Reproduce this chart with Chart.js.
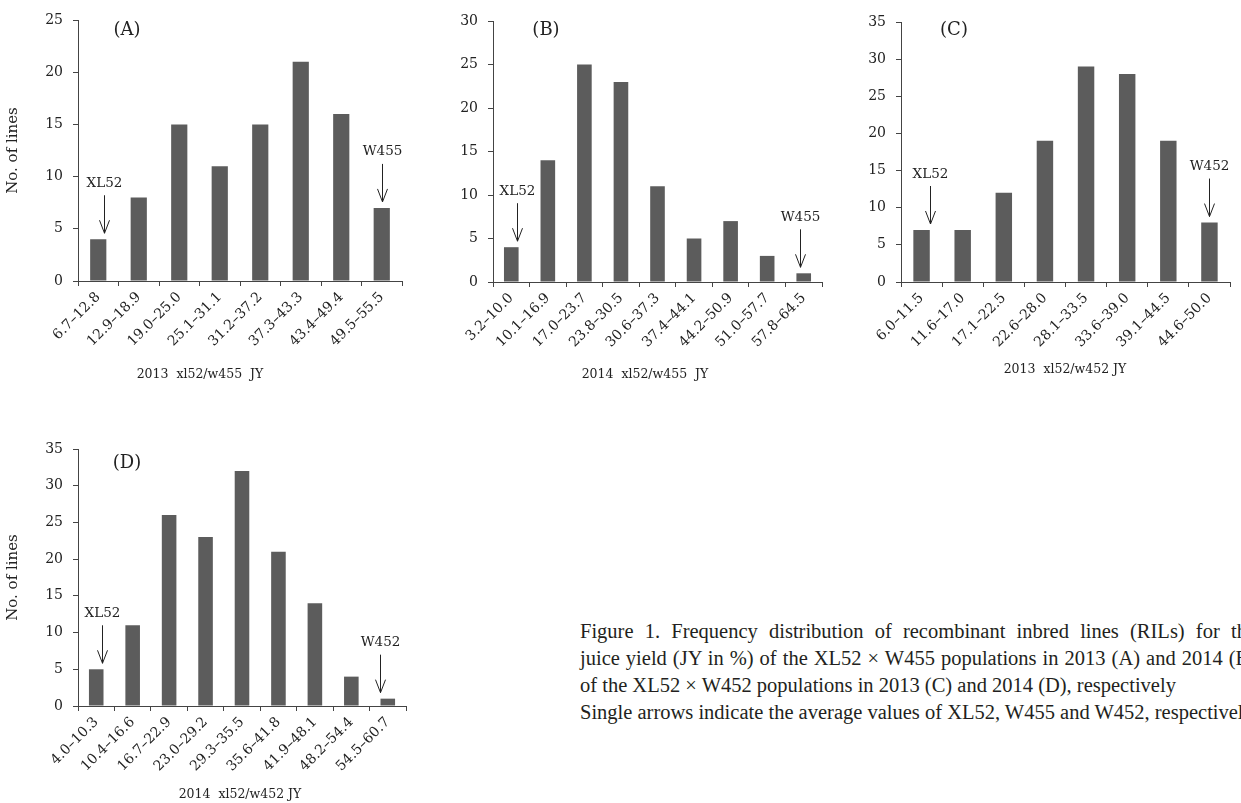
<!DOCTYPE html>
<html>
<head>
<meta charset="utf-8">
<script src="https://cdn.jsdelivr.net/npm/chart.js@4.4.1/dist/chart.umd.min.js"></script>
<style>
  body { margin: 0; background: #fff; width: 1241px; height: 803px; overflow: hidden; position: relative; font-family: "Liberation Serif", serif; }
  canvas { position: absolute; }
  #caption { position: absolute; left: 580px; top: 618px; font-size: 20.5px; line-height: 27px; color: #231f20; }
  #caption div { width: 676px; white-space: nowrap; }
  #caption .just { text-align: justify; text-align-last: justify; white-space: normal; }
</style>
</head>
<body>
<canvas id="chartA" width="420" height="390" style="left:0;top:0"></canvas>
<canvas id="chartB" width="420" height="390" style="left:420px;top:0"></canvas>
<canvas id="chartC" width="411" height="390" style="left:830px;top:0"></canvas>
<canvas id="chartD" width="420" height="403" style="left:0;top:400px"></canvas>
<div id="caption">
  <div class="just">Figure 1. Frequency distribution of recombinant inbred lines (RILs) for the</div>
  <div class="just">juice yield (JY in %) of the XL52 × W455 populations in 2013 (A) and 2014 (B)</div>
  <div>of the XL52 × W452 populations in 2013 (C) and 2014 (D), respectively</div>
  <div>Single arrows indicate the average values of XL52, W455 and W452, respectively</div>
</div>
<script>
// Class intervals and counts
const rangesA = ["6.7–12.8", "12.9–18.9", "19.0–25.0", "25.1–31.1", "31.2–37.2", "37.3–43.3", "43.4–49.4", "49.5–55.5"]
const countsA = [4, 8, 15, 11, 15, 21, 16, 7]

const rangesB = ["3.2–10.0", "10.1–16.9", "17.0–23.7", "23.8–30.5", "30.6–37.3", "37.4–44.1", "44.2–50.9", "51.0–57.7", "57.8–64.5"]
const countsB = [4, 14, 25, 23, 11, 5, 7, 3, 1]

const rangesC = ["6.0–11.5", "11.6–17.0", "17.1–22.5", "22.6–28.0", "28.1–33.5", "33.6–39.0", "39.1–44.5", "44.6–50.0"]
const countsC = [7, 7, 12, 19, 29, 28, 19, 8]

const rangesD = ["4.0–10.3", "10.4–16.6", "16.7–22.9", "23.0–29.2", "29.3–35.5", "35.6–41.8", "41.9–48.1", "48.2–54.4", "54.5–60.7"]
const countsD = [5, 11, 26, 23, 32, 21, 14, 4, 1]

// y axis maxima (step 5)
const yMaxA = 25
const yMaxB = 30
const yMaxC = 35
const yMaxD = 35

const FONT = '"DejaVu Serif", serif'
const INK = "#222"

// Panel letter, x-axis caption and parent arrows
const decorations = {
  id: "decorations",
  afterDraw(chart, args, opts) {
    const ctx = chart.ctx
    const xs = chart.scales.x
    const ys = chart.scales.y
    const data = chart.data.datasets[0].data
    const step = xs.getPixelForValue(1) - xs.getPixelForValue(0)

    ctx.save()
    ctx.fillStyle = INK
    ctx.strokeStyle = INK
    ctx.lineWidth = 1
    ctx.textAlign = "center"
    ctx.textBaseline = "middle"

    ctx.font = "18px " + FONT
    ctx.fillText(opts.panel, opts.panelX, opts.panelY)

    ctx.font = "12.5px " + FONT
    ctx.fillText(opts.xTitle, opts.xTitleX, opts.xTitleY)

    opts.arrows.forEach(a => {
      const ax = Math.round(xs.getPixelForValue(a.index) + a.shift * step) + 0.5
      const tip = ys.getPixelForValue(data[a.index]) - 6
      const tail = tip - 38
      ctx.beginPath()
      ctx.moveTo(ax, tail)
      ctx.lineTo(ax, tip)
      ctx.moveTo(ax - 5, tip - 13)
      ctx.lineTo(ax, tip)
      ctx.lineTo(ax + 5, tip - 13)
      ctx.stroke()
      ctx.font = "13.5px " + FONT
      ctx.fillText(a.label, ax, tail - 12)
    })
    ctx.restore()
  }
}

function makePanel(id, labels, values, yMax, p) {
  const canvas = document.getElementById(id)
  return new Chart(canvas, {
    type: "bar",
    data: {
      labels: labels,
      datasets: [{
        data: values,
        backgroundColor: "#5c5c5c",
        categoryPercentage: 1,
        barPercentage: 0.4
      }]
    },
    options: {
      responsive: false,
      animation: false,
      layout: { padding: { top: p.top, right: p.right, left: 0, bottom: 0 } },
      plugins: {
        legend: { display: false },
        tooltip: { enabled: false },
        decorations: p.deco
      },
      scales: {
        x: {
          offset: true,
          grid: { display: true, drawOnChartArea: false, drawTicks: true, tickLength: 5, color: "#444", offset: true },
          border: { display: true, color: "#444" },
          ticks: {
            autoSkip: false,
            maxRotation: 45,
            minRotation: 45,
            padding: 3,
            color: INK,
            font: { family: FONT, size: 14 }
          },
          afterFit(scale) { scale.height = p.xHeight }
        },
        y: {
          min: 0,
          max: yMax,
          ticks: { stepSize: 5, padding: 10, color: INK, font: { family: FONT, size: 14 } },
          grid: { display: true, drawOnChartArea: false, drawTicks: true, tickLength: 5, color: "#444" },
          border: { display: true, color: "#444" },
          title: {
            display: p.yTitle,
            text: "No. of lines",
            color: INK,
            padding: { top: 4, bottom: 0 },
            font: { family: FONT, size: 15 }
          },
          afterFit(scale) { scale.width = p.yWidth }
        }
      }
    },
    plugins: [decorations]
  })
}

makePanel("chartA", rangesA, countsA, yMaxA, {
  top: 20, right: 18, yWidth: 78, xHeight: 109, yTitle: true,
  deco: {
    panel: "(A)", panelX: 127, panelY: 30,
    xTitle: "2013  xl52/w455  JY", xTitleX: 200, xTitleY: 375,
    arrows: [{ label: "XL52", index: 0, shift: 0.15 }, { label: "W455", index: 7, shift: 0 }]
  }
})

makePanel("chartB", rangesB, countsB, yMaxB, {
  top: 21, right: 18, yWidth: 73, xHeight: 108, yTitle: false,
  deco: {
    panel: "(B)", panelX: 126, panelY: 30,
    xTitle: "2014  xl52/w455  JY", xTitleX: 225, xTitleY: 375,
    arrows: [{ label: "XL52", index: 0, shift: 0.15 }, { label: "W455", index: 8, shift: -0.1 }]
  }
})

makePanel("chartC", rangesC, countsC, yMaxC, {
  top: 22, right: 11, yWidth: 71, xHeight: 108, yTitle: false,
  deco: {
    panel: "(C)", panelX: 124, panelY: 30,
    xTitle: "2013  xl52/w452 JY", xTitleX: 235, xTitleY: 370,
    arrows: [{ label: "XL52", index: 0, shift: 0.2 }, { label: "W452", index: 7, shift: 0 }]
  }
})

makePanel("chartD", rangesD, countsD, yMaxD, {
  top: 49, right: 14, yWidth: 78, xHeight: 97, yTitle: true,
  deco: {
    panel: "(D)", panelX: 127, panelY: 63,
    xTitle: "2014  xl52/w452 JY", xTitleX: 240, xTitleY: 395,
    arrows: [{ label: "XL52", index: 0, shift: 0.15 }, { label: "W452", index: 8, shift: -0.2 }]
  }
})
</script>
</body>
</html>
